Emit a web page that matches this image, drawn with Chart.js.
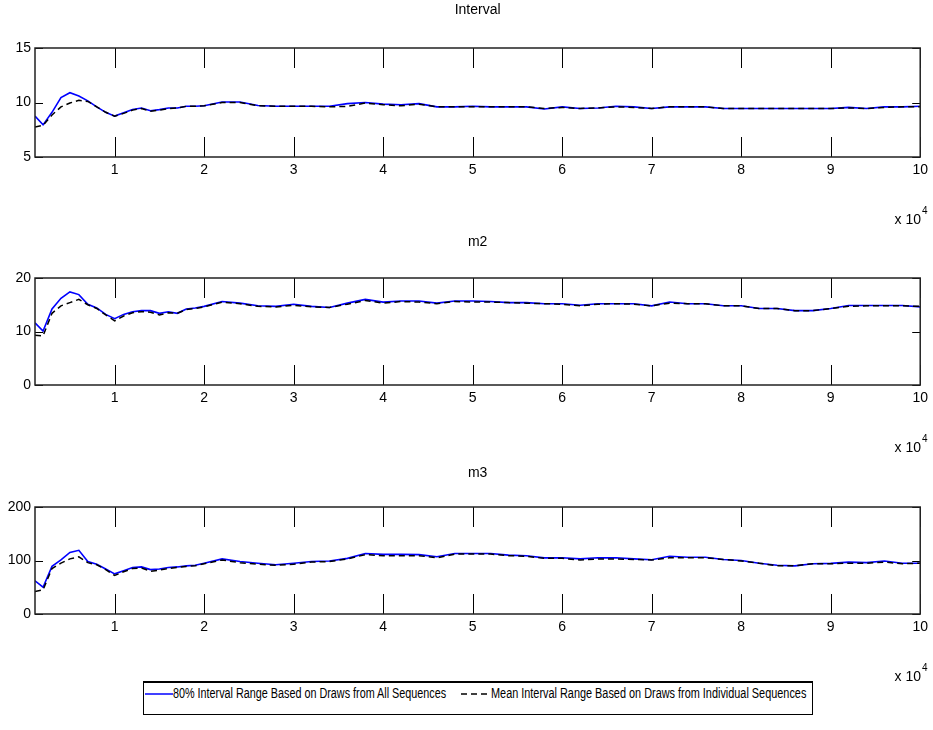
<!DOCTYPE html>
<html>
<head>
<meta charset="utf-8">
<script src="https://cdn.jsdelivr.net/npm/chart.js@4.4.0/dist/chart.umd.min.js"></script>
<style>
  body { margin: 0; background: #fff; width: 933px; height: 730px; overflow: hidden; position: relative;
         font-family: 'Liberation Sans Narrow', 'Liberation Sans', sans-serif; }
  canvas { position: absolute; left: 0; }
  #legend { position: absolute; left: 143px; top: 681px; width: 668px; height: 31px;
            border: 1px solid #000; border-top-width: 2px; background: #fff; font-size: 14px; color: #000; }
  #legend .item { position: absolute; top: 2px; white-space: nowrap; display: inline-block; transform-origin: 0 50%; }
  #legend svg { position: absolute; top: 9px; }
</style>
</head>
<body>
<canvas id="intervalChart" width="933" height="230" style="top:0"></canvas>
<canvas id="m2Chart" width="933" height="230" style="top:230px"></canvas>
<canvas id="m3Chart" width="933" height="230" style="top:460px"></canvas>
<div id="legend">
  <svg width="28" height="4" style="left:1px"><line x1="0" y1="2" x2="28" y2="2" stroke="#0000ff" stroke-width="1.5"/></svg>
  <span class="item" id="leg1" data-w="273" style="left:29px">80% Interval Range Based on Draws from All Sequences</span>
  <svg width="28" height="4" style="left:317px"><line x1="0" y1="2" x2="28" y2="2" stroke="#000" stroke-width="1.5" stroke-dasharray="6 4"/></svg>
  <span class="item" id="leg2" data-w="315" style="left:347px">Mean Interval Range Based on Draws from Individual Sequences</span>
</div>
<script>
const iterations = [1100, 2000, 3000, 4000, 5000, 6000, 7000, 8000, 9000, 10000,
  11000, 12000, 13000, 14000, 15000, 16000, 17000, 18000, 19000, 20000,
  22000, 24000, 26000, 28000, 30000, 32000, 34000, 36000, 38000, 40000,
  42000, 44000, 46000, 48000, 50000, 52000, 54000, 56000, 58000, 60000,
  62000, 64000, 66000, 68000, 70000, 72000, 74000, 76000, 78000, 80000,
  82000, 84000, 86000, 88000, 90000, 92000, 94000, 96000, 98000, 100000];

const xTickValues = [10000, 20000, 30000, 40000, 50000, 60000, 70000, 80000, 90000, 100000];

const intervalAll = [8.75, 7.95, 9.1, 10.45, 10.9, 10.6, 10.15, 9.6, 9.1, 8.75,
  9.05, 9.35, 9.5, 9.25, 9.35, 9.5, 9.5, 9.65, 9.65, 9.7,
  10.05, 10.05, 9.72, 9.66, 9.66, 9.65, 9.65, 9.9, 10.0, 9.85,
  9.8, 9.9, 9.6, 9.6, 9.65, 9.6, 9.6, 9.6, 9.4, 9.6,
  9.45, 9.5, 9.65, 9.6, 9.45, 9.6, 9.6, 9.6, 9.45, 9.45,
  9.45, 9.45, 9.45, 9.45, 9.45, 9.55, 9.45, 9.6, 9.6, 9.65];
const intervalMean = [7.75, 7.9, 8.85, 9.6, 9.95, 10.2, 10.1, 9.6, 9.1, 8.75,
  9.0, 9.3, 9.45, 9.2, 9.3, 9.45, 9.5, 9.65, 9.65, 9.7,
  10.0, 10.0, 9.7, 9.65, 9.65, 9.65, 9.6, 9.65, 9.95, 9.8,
  9.7, 9.85, 9.6, 9.6, 9.6, 9.6, 9.6, 9.6, 9.45, 9.55,
  9.45, 9.5, 9.6, 9.55, 9.45, 9.6, 9.6, 9.6, 9.45, 9.45,
  9.45, 9.45, 9.45, 9.45, 9.45, 9.5, 9.45, 9.55, 9.6, 9.6];
const intervalTicks = [5, 10, 15];

const m2All = [11.6, 10.1, 14.2, 16.2, 17.4, 16.9, 15.1, 14.4, 13.2, 12.4,
  13.2, 13.7, 13.9, 13.9, 13.4, 13.7, 13.4, 14.2, 14.4, 14.7,
  15.6, 15.3, 14.8, 14.7, 15.1, 14.7, 14.5, 15.3, 16.0, 15.5,
  15.7, 15.7, 15.3, 15.7, 15.7, 15.6, 15.4, 15.4, 15.2, 15.2,
  14.9, 15.2, 15.2, 15.2, 14.8, 15.5, 15.2, 15.2, 14.8, 14.8,
  14.3, 14.3, 13.9, 13.9, 14.3, 14.85, 14.85, 14.85, 14.85, 14.6];
const m2Mean = [9.3, 9.2, 13.4, 14.8, 15.4, 16.0, 15.0, 14.3, 13.1, 12.0,
  12.9, 13.5, 13.7, 13.6, 13.1, 13.5, 13.4, 14.1, 14.3, 14.6,
  15.5, 15.2, 14.7, 14.6, 14.9, 14.6, 14.5, 15.1, 15.8, 15.3,
  15.6, 15.5, 15.2, 15.6, 15.5, 15.5, 15.4, 15.3, 15.2, 15.1,
  14.8, 15.1, 15.2, 15.1, 14.8, 15.3, 15.2, 15.2, 14.8, 14.8,
  14.3, 14.3, 13.9, 13.9, 14.3, 14.7, 14.8, 14.8, 14.8, 14.7];
const m2Ticks = [0, 10, 20];

const m3All = [62, 50, 89, 101, 115, 119, 98, 93, 84, 75,
  81, 87, 88, 83, 84, 87, 88, 90, 91, 95,
  103, 98, 95, 92, 95, 98, 99, 104, 113, 111.5,
  111.5, 111, 107, 113, 113, 113, 110, 109, 105, 105,
  103, 105, 105, 103, 101.5, 108, 106, 106, 102, 100,
  95, 91, 90, 94, 94.7, 97, 96, 99, 95, 95];
const m3Mean = [42, 45, 85, 95, 103, 107, 96, 92, 83, 72,
  79, 85, 86, 80, 82, 85, 87, 89, 90, 94,
  101, 96, 93, 91, 93, 97, 98, 103, 111, 109,
  109, 109, 105, 112, 112, 112, 109, 108, 104, 104,
  101, 103, 103, 102, 101, 105, 105, 105, 102, 99,
  95, 90, 90, 94, 94, 95, 95, 97, 94, 95];
const m3Ticks = [0, 100, 200];

const FONT = "'Liberation Sans Narrow', 'Liberation Sans', sans-serif";
Chart.defaults.font.family = FONT;
Chart.defaults.font.size = 14;
Chart.defaults.color = "#000";

// squeeze legend text to the narrow width of the original
document.querySelectorAll("#legend .item").forEach((el) => {
  const target = Number(el.dataset.w);
  el.style.transform = "scaleX(" + (target / el.offsetWidth) + ")";
});

// matlab style box with inward ticks and the x 10^4 multiplier
const boxTicks = {
  id: "boxTicks",
  afterDatasetsDraw(chart) {
    const { ctx, chartArea: a, scales: { x, y } } = chart;
    ctx.save();
    ctx.strokeStyle = "#000";
    ctx.lineWidth = 1;
    ctx.beginPath();
    x.ticks.forEach((t) => {
      const px = Math.round(x.getPixelForValue(t.value)) + 0.5;
      ctx.moveTo(px, a.bottom); ctx.lineTo(px, a.bottom - 20);
      ctx.moveTo(px, a.top); ctx.lineTo(px, a.top + 20);
    });
    y.ticks.forEach((t) => {
      const py = Math.round(y.getPixelForValue(t.value)) + 0.5;
      ctx.moveTo(a.left, py); ctx.lineTo(a.left + 8, py);
      ctx.moveTo(a.right, py); ctx.lineTo(a.right - 8, py);
    });
    ctx.stroke();
    ctx.strokeStyle = "#222";
    ctx.lineWidth = 1.5;
    ctx.strokeRect(a.left, a.top, a.width, a.height);
    ctx.fillStyle = "#000";
    ctx.textBaseline = "middle";
    ctx.textAlign = "right";
    ctx.font = "14px " + FONT;
    ctx.fillText("x 10", 921, a.bottom + 63);
    ctx.textAlign = "left";
    ctx.font = "10px " + FONT;
    ctx.fillText("4", 922, a.bottom + 54);
    ctx.restore();
  },
};

function makePanel(id, title, allValues, meanValues, yTicks, titleTop, areaTop, areaBottom) {
  new Chart(document.getElementById(id), {
    type: "line",
    data: {
      datasets: [
        {
          label: "Mean Interval Range Based on Draws from Individual Sequences",
          data: iterations.map((it, i) => ({ x: it, y: meanValues[i] })),
          borderColor: "#000",
          borderWidth: 1.5,
          borderDash: [6, 4],
          pointRadius: 0,
          tension: 0,
          order: 0,
        },
        {
          label: "80% Interval Range Based on Draws from All Sequences",
          data: iterations.map((it, i) => ({ x: it, y: allValues[i] })),
          borderColor: "#0000ff",
          borderWidth: 1.6,
          pointRadius: 0,
          tension: 0,
          order: 1,
        },
      ],
    },
    options: {
      responsive: false,
      animation: false,
      devicePixelRatio: 1,
      layout: { padding: { top: 0, left: 0, right: 7, bottom: 0 } },
      plugins: {
        legend: { display: false },
        tooltip: { enabled: false },
        title: {
          display: true,
          text: title,
          fullSize: false,
          font: { size: 14, weight: "normal" },
          padding: { top: titleTop, bottom: areaTop - titleTop - 16.8 },
        },
      },
      scales: {
        x: {
          type: "linear",
          min: 1100,
          max: 100000,
          grid: { display: false, drawTicks: false },
          border: { display: false },
          ticks: { padding: 5, maxRotation: 0, autoSkip: false, callback: (v) => v / 10000 },
          afterBuildTicks: (s) => { s.ticks = xTickValues.map((v) => ({ value: v })); },
          afterFit: (s) => { s.height = 230 - areaBottom; },
        },
        y: {
          min: yTicks[0],
          max: yTicks[yTicks.length - 1],
          grid: { display: false, drawTicks: false },
          border: { display: false },
          ticks: { padding: 4 },
          afterBuildTicks: (s) => { s.ticks = yTicks.map((v) => ({ value: v })); },
          afterFit: (s) => { s.width = 35; },
        },
      },
    },
    plugins: [boxTicks],
  });
}

makePanel("intervalChart", "Interval", intervalAll, intervalMean, intervalTicks, 2, 48, 157);
makePanel("m2Chart", "m2", m2All, m2Mean, m2Ticks, 4, 48, 155);
makePanel("m3Chart", "m3", m3All, m3Mean, m3Ticks, 5, 47, 154);
</script>
</body>
</html>
